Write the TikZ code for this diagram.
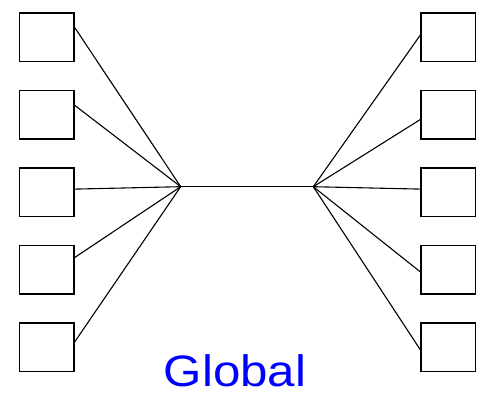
\documentclass[tikz,border=0pt]{standalone}
\usepackage{fontspec}
\setmainfont{Liberation Sans}
\usetikzlibrary{positioning}

\tikzset{
    port/.style={draw, line width=1.2pt, minimum width=54.5pt, minimum height=48.5pt, inner sep=0pt},
    wire/.style={line width=1.1pt},
}

\begin{document}
\begin{tikzpicture}[x=1pt, y=1pt, node distance=27.8pt]
    \useasboundingbox (0,0) rectangle (479,397);
    %% left column
    \node[port] (l1) at (46.7,359.8) {};
    \node[port, below = of l1] (l2) {};
    \node[port, below = of l2] (l3) {};
    \node[port, below = of l3] (l4) {};
    \node[port, below = of l4] (l5) {};
    %% right column
    \node[port] (r1) at (448.2,359.8) {};
    \node[port, below = of r1] (r2) {};
    \node[port, below = of r2] (r3) {};
    \node[port, below = of r3] (r4) {};
    \node[port, below = of r4] (r5) {};
    % the two fan-in points
    \coordinate (hl) at (180.7,210.3);
    \coordinate (hr) at (313.3,210.3);
    \draw[wire] (hl) -- (hr);
    \foreach \i/\dl/\dr in {1/9.9/2.2, 2/9.5/-4.8, 3/3.1/3.1, 4/12.1/-2.2, 5/5.1/-2.6}{
        \draw[wire] (hl) -- ([yshift=\dl pt]l\i.east);
        \draw[wire] (hr) -- ([yshift=\dr pt]r\i.west);
    }
    % caption
    \node[anchor=base, text=blue, font=\fontsize{44}{44}\selectfont, inner sep=0pt] (name) at (235,10.3) {\scalebox{1.12}[1]{Global}};
\end{tikzpicture}
\end{document}
